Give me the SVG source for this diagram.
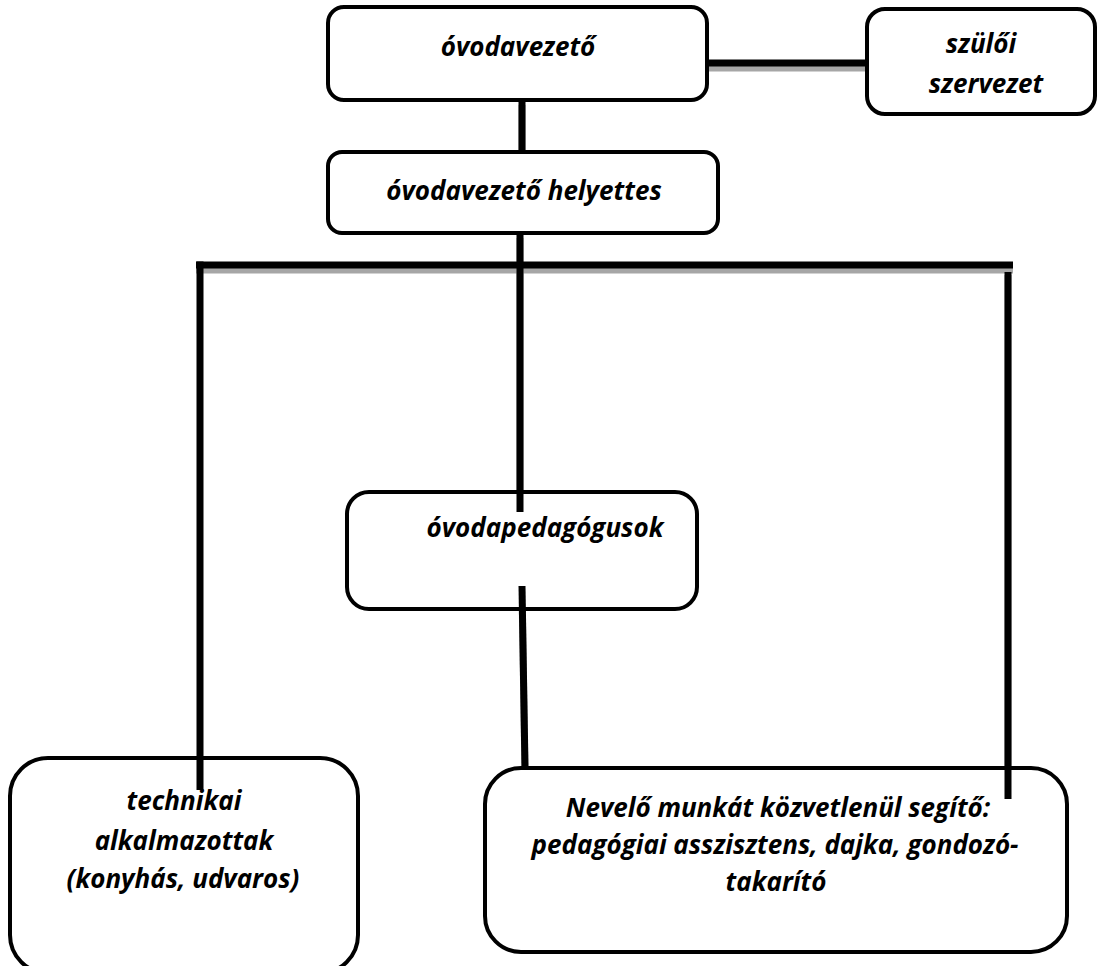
<svg xmlns="http://www.w3.org/2000/svg" width="1097" height="966" viewBox="0 0 1097 966">
<style>
.box{fill:#fff;stroke:#000;stroke-width:4}
.t{font-family:"Open Sans","Liberation Sans",sans-serif;font-weight:bold;font-style:italic;font-size:26px;fill:#000;text-anchor:middle}
.sh{stroke:#a6a6a6;stroke-width:7;fill:none}
.ln{stroke:#000;stroke-width:7;fill:none}
</style>
<rect width="1097" height="966" fill="#fff"/>
<g id="connector-shadows" transform="translate(0,5)">
<line class="sh" x1="707" y1="63" x2="867" y2="63"/>
<line class="sh" x1="522" y1="100" x2="522" y2="152"/>
<line class="sh" x1="520" y1="233" x2="520" y2="512"/>
<line class="sh" x1="196" y1="265" x2="1013" y2="265"/>
<line class="sh" x1="1008" y1="270" x2="1008" y2="799"/>
<line class="sh" x1="522" y1="586" x2="525" y2="768"/>
</g>
<g id="n1"><rect class="box" x="328" y="7" width="379" height="93" rx="16"/><text class="t" x="518" y="56">óvodavezető</text></g>
<g id="n2"><rect class="box" x="867" y="9" width="228" height="105" rx="18"/><text class="t" x="981" y="53">szülői</text><text class="t" x="986" y="93">szervezet</text></g>
<g id="n3"><rect class="box" x="328" y="152" width="390" height="81" rx="14"/><text class="t" x="524" y="200">óvodavezető helyettes</text></g>
<g id="n4"><rect class="box" x="347" y="492" width="350" height="117" rx="22"/><text class="t" x="545" y="537">óvodapedagógusok</text></g>
<g id="n5"><rect class="box" x="10" y="758" width="348" height="215" rx="38"/><text class="t" x="184" y="810">technikai</text><text class="t" x="184" y="850">alkalmazottak</text><text class="t" x="183" y="888">(konyhás, udvaros)</text></g>
<g id="n6"><rect class="box" x="485" y="768" width="582" height="184" rx="36"/><text class="t" x="778" y="817">Nevelő munkát közvetlenül segítő:</text><text class="t" x="775" y="854">pedagógiai asszisztens, dajka, gondozó-</text><text class="t" x="776" y="891">takarító</text></g>
<g id="connectors">
<line class="ln" x1="707" y1="63" x2="867" y2="63"/>
<line class="ln" x1="522" y1="100" x2="522" y2="152"/>
<line class="ln" x1="520" y1="233" x2="520" y2="512"/>
<line class="ln" x1="196" y1="265" x2="1013" y2="265"/>
<line class="ln" x1="200" y1="261.5" x2="200" y2="790"/>
<line class="ln" x1="1008" y1="272" x2="1008" y2="799"/>
<line class="ln" x1="522" y1="586" x2="525" y2="768"/>
</g>
</svg>
